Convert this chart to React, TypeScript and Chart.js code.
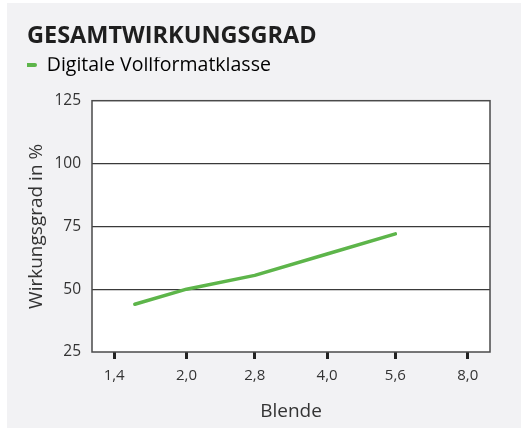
import React, { useEffect, useRef } from "react";
import { Chart, registerables } from "chart.js";

Chart.register(...registerables);

const chartTitle = "GESAMTWIRKUNGSGRAD";
const seriesName = "Digitale Vollformatklasse";
const xTitle = "Blende";
const yTitle = "Wirkungsgrad in %";

const apertureTicks = [1.4, 2.0, 2.8, 4.0, 5.6, 8.0];
const apertureTickLabels = ["1,4", "2,0", "2,8", "4,0", "5,6", "8,0"];
const apertures = [1.55, 2.0, 2.8, 4.0, 5.6];
const efficiency = [44, 50, 55.5, 64, 72];
const yTicks = [25, 50, 75, 100, 125];

const GREEN = "#5db54a";
const FONT = "'Open Sans', sans-serif";

const framePlugin = {
  id: "frame",
  beforeInit(chart: any) {
    const legend = chart.legend;
    if (legend && !legend.__patched) {
      const origFit = legend.fit;
      legend.fit = function (this: any) {
        origFit.call(this);
        this.height += 16;
      };
      legend.__patched = true;
    }
  },
  beforeDraw(chart: any) {
    const { ctx, chartArea } = chart;
    const { left, top, right, bottom } = chartArea;
    ctx.save();
    ctx.fillStyle = "#ffffff";
    ctx.fillRect(left, top, right - left, bottom - top);
    ctx.restore();
  },
  beforeDatasetsDraw(chart: any) {
    const { ctx, chartArea } = chart;
    const { left, top, right, bottom } = chartArea;
    ctx.save();
    ctx.strokeStyle = "#4a4a4a";
    ctx.lineWidth = 1.5;
    ctx.strokeRect(left, top, right - left, bottom - top);
    ctx.restore();
  },
};

export default function App() {
  const ref = useRef<HTMLCanvasElement | null>(null);

  useEffect(() => {
    document.body.style.margin = "0";
    const canvas = ref.current;
    if (!canvas) return;
    const chart = new Chart(canvas, {
      type: "line",
      data: {
        datasets: [
          {
            label: seriesName,
            data: apertures.map((a, i) => ({ x: a, y: efficiency[i] })),
            borderColor: GREEN,
            backgroundColor: GREEN,
            borderWidth: 3.5,
            borderCapStyle: "round",
            borderJoinStyle: "round",
            pointRadius: 0,
            tension: 0,
          },
        ],
      },
      options: {
        animation: false,
        responsive: false,
        maintainAspectRatio: false,
        layout: { padding: { left: 20, right: 31, top: 0, bottom: 0 } },
        plugins: {
          title: {
            display: true,
            text: chartTitle,
            align: "start",
            color: "#1f1f1f",
            font: { family: FONT, size: 23.5, weight: "bold", lineHeight: 1.2 },
            padding: { top: 19, bottom: 7 },
          },
          legend: {
            display: true,
            align: "start",
            labels: {
              color: "#333333",
              font: { family: FONT, size: 19.5 },
              boxWidth: 12,
              boxHeight: 4,
              padding: -2,
              useBorderRadius: true,
              borderRadius: 2,
              generateLabels: () => [
                {
                  text: seriesName,
                  fillStyle: GREEN,
                  strokeStyle: GREEN,
                  lineWidth: 0,
                  borderRadius: 2,
                  datasetIndex: 0,
                },
              ],
            },
          },
          tooltip: { enabled: false },
        },
        scales: {
          x: {
            type: "logarithmic",
            min: 1.255,
            max: 8.93,
            afterBuildTicks: (scale: any) => {
              scale.ticks = apertureTicks.map((v) => ({ value: v }));
            },
            afterFit: (scale: any) => {
              scale.height = 76;
            },
            ticks: {
              autoSkip: false,
              maxRotation: 0,
              color: "#333333",
              font: { family: FONT, size: 15 },
              padding: 8,
              callback: (_v: any, i: number) => apertureTickLabels[i],
            },
            grid: {
              drawOnChartArea: false,
              drawTicks: true,
              tickLength: 7,
              tickWidth: 3,
              tickColor: "#222222",
            },
            border: { display: false },
            title: {
              display: true,
              text: xTitle,
              color: "#333333",
              font: { family: FONT, size: 19 },
              padding: { top: 2, bottom: 5 },
            },
          },
          y: {
            type: "linear",
            min: 25,
            max: 125,
            afterBuildTicks: (scale: any) => {
              scale.ticks = yTicks.map((v) => ({ value: v }));
            },
            afterFit: (scale: any) => {
              scale.width = 65;
            },
            ticks: {
              color: "#333333",
              font: { family: FONT, size: 15.5 },
              padding: 11,
            },
            grid: {
              drawTicks: false,
              lineWidth: 1.2,
              color: (c: any) =>
                c.tick && c.tick.value > 25 && c.tick.value < 125
                  ? "#3a3a3a"
                  : "rgba(0,0,0,0)",
            },
            border: { display: false },
            title: {
              display: true,
              text: yTitle,
              color: "#333333",
              font: { family: FONT, size: 19, lineHeight: 1 },
              padding: { top: 0, bottom: 0 },
            },
          },
        },
      },
      plugins: [framePlugin],
    } as any);
    return () => chart.destroy();
  }, []);

  return (
    <div style={{ width: 521, height: 428, background: "#ffffff", overflow: "hidden" }}>
      <div
        style={{
          marginLeft: 7,
          width: 514,
          height: 425,
          background: "#f2f2f4",
          position: "relative",
          top: 3,
        }}
      >
        <canvas ref={ref} width={514} height={425} style={{ display: "block", position: "absolute", top: 0, left: 0 }} />
      </div>
    </div>
  );
}
